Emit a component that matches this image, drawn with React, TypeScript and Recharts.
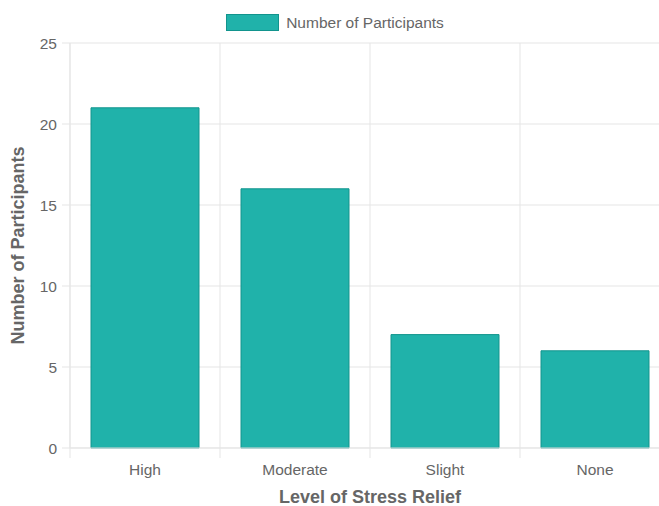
import React from 'react';
import { BarChart, Bar, XAxis, YAxis, CartesianGrid, Legend } from 'recharts';

const categories = ['High', 'Moderate', 'Slight', 'None'];
const participants = [21, 16, 7, 6];
const yTicks = [0, 5, 10, 15, 20, 25];

const seriesName = 'Number of Participants';
const FILL = '#20B2AA';
const STROKE = '#12948D';
const GRID = '#e5e5e5';
const TEXT = '#666';
const FONT = '"Liberation Sans", Arial, Helvetica, sans-serif';

// the original chart is a bit wider than the picture, its right edge is cut off
const W = 670;
const H = 506;
const VIEW_W = 659;
const LEFT = 70;

const data = categories.map((c, i) => ({ name: c, value: participants[i] }));

const band = (W - LEFT) / categories.length;

const XTick = (props: any) => {
  const { x, y, payload } = props;
  return (
    <g>
      <line x1={x - band / 2} x2={x - band / 2} y1={y} y2={y + 10} stroke={GRID} />
      <text x={x} y={y + 27} textAnchor="middle" fill={TEXT} fontSize={15.5} fontFamily={FONT}>
        {payload.value}
      </text>
    </g>
  );
};

const LegendContent = () => (
  <div
    style={{
      height: 43,
      display: 'flex',
      justifyContent: 'center',
      alignItems: 'flex-start',
      paddingTop: 14,
      boxSizing: 'border-box',
      fontFamily: FONT,
    }}
  >
    <span
      style={{
        display: 'inline-block',
        width: 51,
        height: 15,
        background: FILL,
        border: `1px solid ${STROKE}`,
      }}
    />
    <span style={{ marginLeft: 7, fontSize: 15.5, color: TEXT, lineHeight: '17px' }}>{seriesName}</span>
  </div>
);

const App = () => {
  return (
    <div style={{ position: 'absolute', left: 0, top: 0, width: VIEW_W, height: H, overflow: 'hidden', background: '#fff' }}>
      <BarChart
        width={W}
        height={H}
        data={data}
        margin={{ top: 0, right: 0, bottom: 0, left: 0 }}
        barCategoryGap="14%"
      >
        <CartesianGrid
          stroke={GRID}
          verticalCoordinatesGenerator={({ offset }: any) =>
            categories.map((_, i) => offset.left + (i * offset.width) / categories.length)
          }
        />
        <Legend verticalAlign="top" wrapperStyle={{ top: 0 }} content={LegendContent} />
        <XAxis
          dataKey="name"
          height={58}
          axisLine={{ stroke: GRID }}
          tickLine={false}
          tickSize={0}
          tickMargin={0}
          tick={XTick}
          interval={0}
          label={{
            content: ({ viewBox }: any) => (
              <text
                x={viewBox.x + viewBox.width / 2}
                y={497}
                textAnchor="middle"
                dominantBaseline="central"
                fill={TEXT}
                fontSize={18}
                fontWeight="bold"
                fontFamily={FONT}
              >
                Level of Stress Relief
              </text>
            ),
          }}
        />
        <YAxis
          width={LEFT}
          domain={[0, 25]}
          ticks={yTicks}
          interval={0}
          axisLine={{ stroke: GRID }}
          tickLine={{ stroke: GRID }}
          tickSize={8}
          tickMargin={5}
          tick={{ fill: TEXT, fontSize: 15.5, fontFamily: FONT }}
          label={{
            content: ({ viewBox }: any) => (
              <text
                x={18}
                y={viewBox.y + viewBox.height / 2}
                textAnchor="middle"
                dominantBaseline="central"
                transform={`rotate(-90 18 ${viewBox.y + viewBox.height / 2})`}
                fill={TEXT}
                fontSize={18}
                fontWeight="bold"
                fontFamily={FONT}
              >
                {seriesName}
              </text>
            ),
          }}
        />
        <Bar dataKey="value" name={seriesName} fill={FILL} stroke={STROKE} strokeWidth={1} isAnimationActive={false} />
      </BarChart>
    </div>
  );
};

export default App;
